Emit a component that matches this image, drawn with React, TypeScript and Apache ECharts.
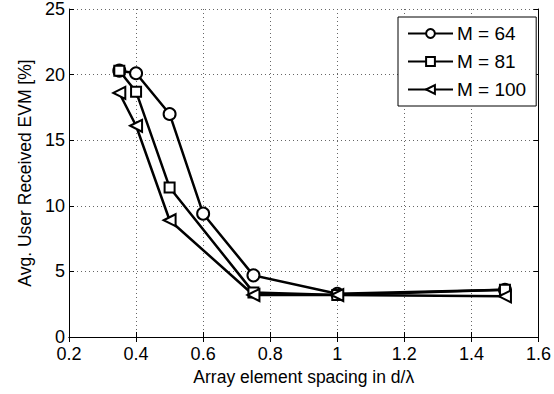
import React, { useEffect, useRef } from "react";
import * as echarts from "echarts";

const seriesNames = ["M = 64", "M = 81", "M = 100"];
const m64X = [0.35, 0.4, 0.5, 0.6, 0.75, 1.0, 1.5];
const m64Y = [20.3, 20.1, 17.0, 9.4, 4.7, 3.3, 3.6];
const m81X = [0.35, 0.4, 0.5, 0.75, 1.0, 1.5];
const m81Y = [20.3, 18.7, 11.4, 3.4, 3.2, 3.6];
const m100X = [0.35, 0.4, 0.5, 0.75, 1.0, 1.5];
const m100Y = [18.6, 16.1, 8.9, 3.2, 3.2, 3.1];
const xTicks = [0.2, 0.4, 0.6, 0.8, 1, 1.2, 1.4, 1.6];
const yTicks = [0, 5, 10, 15, 20, 25];

const pairs = (xs: number[], ys: number[]) => xs.map((x, i) => [x, ys[i]]);

export default function App() {
  const ref = useRef<HTMLDivElement>(null);
  useEffect(() => {
    if (!ref.current) return;
    const chart = echarts.init(ref.current, null, { renderer: "svg" });
    const font = "Liberation Sans, Arial, sans-serif";
    const axisLine = { show: true, lineStyle: { color: "#000", width: 1 } };
    const tick = { show: true, inside: true, length: 5, lineStyle: { color: "#000" } };
    const split = { show: true, lineStyle: { color: "#666", type: [1, 3] as any, width: 1 } };
    const xMin = xTicks[0], xMax = xTicks[xTicks.length - 1];
    const yMin = yTicks[0], yMax = yTicks[yTicks.length - 1];
    const common = {
      type: "line",
      lineStyle: { color: "#000", width: 2.5 },
      itemStyle: { color: "#fff", borderColor: "#000", borderWidth: 2 },
      symbolKeepAspect: true,
    };
    chart.setOption({
      animation: false,
      backgroundColor: "#fff",
      grid: { left: 69, top: 9, right: 8, bottom: 57 },
      legend: {
        orient: "vertical",
        left: 398,
        top: 17,
        padding: [7, 10, 7, 9],
        itemWidth: 45,
        itemHeight: 11,
        itemGap: 9,
        borderColor: "#000",
        borderWidth: 1,
        backgroundColor: "#fff",
        textStyle: { fontFamily: font, fontSize: 19, color: "#000", padding: [0, 0, 0, -1] },
        data: seriesNames,
      },
      xAxis: [
        {
          type: "value",
          min: xMin,
          max: xMax,
          interval: 0.2,
          name: "Array element spacing in d/λ",
          nameLocation: "middle",
          nameGap: 31,
          nameTextStyle: { fontFamily: font, fontSize: 17.5, color: "#000" },
          axisLine,
          axisTick: tick,
          splitLine: split,
          axisLabel: {
            fontFamily: font,
            fontSize: 18,
            color: "#000",
            margin: 8,
            formatter: (v: number) => String(Math.round(v * 10) / 10),
          },
        },
        {
          type: "value",
          position: "top",
          min: xMin,
          max: xMax,
          interval: 0.2,
          axisLine,
          axisTick: tick,
          splitLine: { show: false },
          axisLabel: { show: false },
        },
      ],
      yAxis: [
        {
          type: "value",
          min: yMin,
          max: yMax,
          interval: 5,
          name: "Avg. User Received EVM [%]",
          nameLocation: "middle",
          nameGap: 35,
          nameTextStyle: { fontFamily: font, fontSize: 17.5, color: "#000" },
          axisLine,
          axisTick: tick,
          splitLine: split,
          axisLabel: { fontFamily: font, fontSize: 18, color: "#000", margin: 4, padding: [3, 0, 0, 0] },
        },
        {
          type: "value",
          position: "right",
          min: yMin,
          max: yMax,
          interval: 5,
          axisLine,
          axisTick: tick,
          splitLine: { show: false },
          axisLabel: { show: false },
        },
      ],
      series: [
        { ...common, name: seriesNames[0], symbol: "circle", symbolSize: 12, data: pairs(m64X, m64Y) },
        { ...common, name: seriesNames[1], symbol: "rect", symbolSize: 10, data: pairs(m81X, m81Y) },
        {
          ...common,
          name: seriesNames[2],
          symbol: "triangle",
          symbolRotate: 90,
          symbolSize: 12,
          data: pairs(m100X, m100Y),
        },
      ],
    });
    return () => chart.dispose();
  }, []);
  return <div ref={ref} style={{ width: 554, height: 394, position: "absolute", left: 0, top: 0 }} />;
}
